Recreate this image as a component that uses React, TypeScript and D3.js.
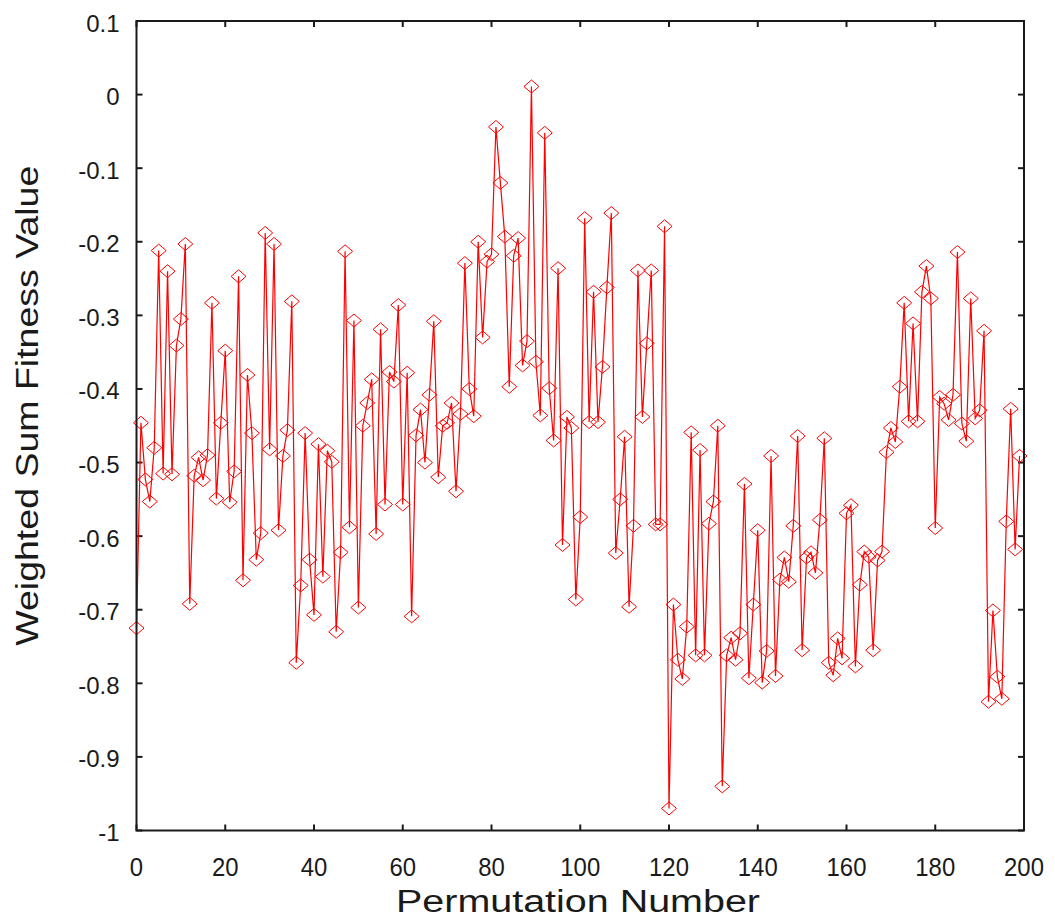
import React, { useEffect, useRef } from 'react';
import * as d3 from 'd3';

// weighted sum fitness value for each permutation (index = permutation number)
const fitness = [
  -0.725, -0.446, -0.523, -0.553, -0.48, -0.212, -0.515, -0.24, -0.516, -0.341,
  -0.305, -0.203, -0.692, -0.518, -0.493, -0.524, -0.49, -0.283, -0.549, -0.446,
  -0.348, -0.554, -0.512, -0.247, -0.66, -0.381, -0.46, -0.632, -0.596, -0.188,
  -0.482, -0.203, -0.592, -0.491, -0.456, -0.281, -0.772, -0.667, -0.46, -0.632,
  -0.707, -0.475, -0.655, -0.484, -0.499, -0.73, -0.622, -0.213, -0.588, -0.307,
  -0.697, -0.45, -0.419, -0.387, -0.597, -0.319, -0.557, -0.377, -0.39, -0.286,
  -0.557, -0.378, -0.709, -0.463, -0.428, -0.5, -0.408, -0.308, -0.52, -0.45,
  -0.446, -0.419, -0.539, -0.434, -0.229, -0.4, -0.437, -0.2, -0.33, -0.227,
  -0.217, -0.044, -0.12, -0.193, -0.397, -0.219, -0.195, -0.368, -0.335, 0.011,
  -0.363, -0.436, -0.052, -0.399, -0.47, -0.236, -0.612, -0.438, -0.453, -0.686,
  -0.574, -0.168, -0.445, -0.268, -0.445, -0.37, -0.262, -0.161, -0.623, -0.55,
  -0.465, -0.696, -0.586, -0.239, -0.438, -0.338, -0.239, -0.584, -0.584, -0.179,
  -0.97, -0.693, -0.768, -0.794, -0.723, -0.459, -0.762, -0.483, -0.762, -0.583,
  -0.553, -0.45, -0.94, -0.762, -0.738, -0.768, -0.732, -0.529, -0.793, -0.693,
  -0.592, -0.799, -0.756, -0.491, -0.79, -0.659, -0.629, -0.662, -0.586, -0.464,
  -0.755, -0.629, -0.622, -0.65, -0.578, -0.467, -0.772, -0.789, -0.739, -0.766,
  -0.569, -0.558, -0.777, -0.666, -0.621, -0.628, -0.755, -0.633, -0.621, -0.486,
  -0.453, -0.472, -0.397, -0.283, -0.444, -0.311, -0.444, -0.268, -0.233, -0.277,
  -0.589, -0.411, -0.42, -0.442, -0.408, -0.214, -0.447, -0.471, -0.277, -0.44,
  -0.429, -0.321, -0.825, -0.701, -0.791, -0.821, -0.58, -0.427, -0.618, -0.491,
];

const xTicks = [0, 20, 40, 60, 80, 100, 120, 140, 160, 180, 200];
const yTicks = [0.1, 0, -0.1, -0.2, -0.3, -0.4, -0.5, -0.6, -0.7, -0.8, -0.9, -1];

const xTitle = 'Permutation Number';
const yTitle = 'Weighted Sum Fitness Value';

const App = () => {
  const svgRef = useRef(null);
  const width = 1055;
  const height = 918;
  const margin = { top: 21, right: 31, bottom: 87.5, left: 136.5 };

  useEffect(() => {
    const svg = d3.select(svgRef.current);
    svg.selectAll('*').remove();

    const x = d3.scaleLinear([0, 200], [margin.left, width - margin.right]);
    const y = d3.scaleLinear([-1, 0.1], [height - margin.bottom, margin.top]);
    const [x0, x1] = x.range();
    const [y0, y1] = y.range();
    const tickLen = 6;
    const ink = '#1a1a1a';

    svg.append('rect').attr('width', width).attr('height', height).attr('fill', '#fff');

    // inward ticks on all four sides
    const ticks = svg.append('g').attr('stroke', ink).attr('stroke-width', 2);
    xTicks.forEach(t => {
      ticks.append('line').attr('x1', x(t)).attr('x2', x(t)).attr('y1', y0).attr('y2', y0 - tickLen);
      ticks.append('line').attr('x1', x(t)).attr('x2', x(t)).attr('y1', y1).attr('y2', y1 + tickLen);
    });
    yTicks.forEach(t => {
      ticks.append('line').attr('x1', x0).attr('x2', x0 + tickLen).attr('y1', y(t)).attr('y2', y(t));
      ticks.append('line').attr('x1', x1).attr('x2', x1 - tickLen).attr('y1', y(t)).attr('y2', y(t));
    });

    // data line
    const line = d3.line<number>()
      .x((d, i) => x(i))
      .y(d => y(d));

    svg.append('path')
      .datum(fitness)
      .attr('d', line)
      .attr('fill', 'none')
      .attr('stroke', '#ff0000')
      .attr('stroke-width', 1.2);

    // diamond markers
    const hw = 7.5, hh = 6.5;
    svg.append('g')
      .selectAll('path')
      .data(fitness)
      .join('path')
        .attr('transform', (d, i) => `translate(${x(i)},${y(d)})`)
        .attr('d', `M0,${-hh}L${hw},0L0,${hh}L${-hw},0Z`)
        .attr('fill', 'none')
        .attr('stroke', '#ff0000')
        .attr('stroke-width', 1);

    // frame
    svg.append('rect')
      .attr('x', x0).attr('y', y1)
      .attr('width', x1 - x0).attr('height', y0 - y1)
      .attr('fill', 'none')
      .attr('stroke', ink)
      .attr('stroke-width', 2);

    const font = 'Arial, "Liberation Sans", sans-serif';

    // y tick labels
    svg.append('g')
      .selectAll('text')
      .data(yTicks)
      .join('text')
        .attr('x', x0 - 17)
        .attr('y', d => y(d) + 2)
        .attr('text-anchor', 'end')
        .attr('dominant-baseline', 'central')
        .attr('font-family', font)
        .attr('font-size', 24)
        .attr('fill', ink)
        .text(d => (d === 0 ? '0' : String(+d.toFixed(1))));

    // x tick labels (slightly condensed)
    svg.append('g')
      .selectAll('text')
      .data(xTicks)
      .join('text')
        .attr('transform', d => `translate(${x(d)},${y0 + 45}) scale(0.92,1)`)
        .attr('text-anchor', 'middle')
        .attr('font-family', font)
        .attr('font-size', 26)
        .attr('fill', ink)
        .text(d => String(d));

    // axis titles
    svg.append('text')
      .attr('x', 578)
      .attr('y', 912)
      .attr('text-anchor', 'middle')
      .attr('font-family', font)
      .attr('font-size', 31)
      .attr('textLength', 364)
      .attr('lengthAdjust', 'spacingAndGlyphs')
      .attr('fill', ink)
      .text(xTitle);

    svg.append('text')
      .attr('transform', `translate(38,${(y0 + y1) / 2 - 20}) rotate(-90)`)
      .attr('text-anchor', 'middle')
      .attr('font-family', font)
      .attr('font-size', 32)
      .attr('textLength', 480)
      .attr('lengthAdjust', 'spacingAndGlyphs')
      .attr('fill', ink)
      .text(yTitle);
  }, []);

  return (
    <svg
      ref={svgRef}
      width={width}
      height={height}
      style={{ position: 'absolute', left: 0, top: 0, display: 'block' }}
    />
  );
};

export default App;
